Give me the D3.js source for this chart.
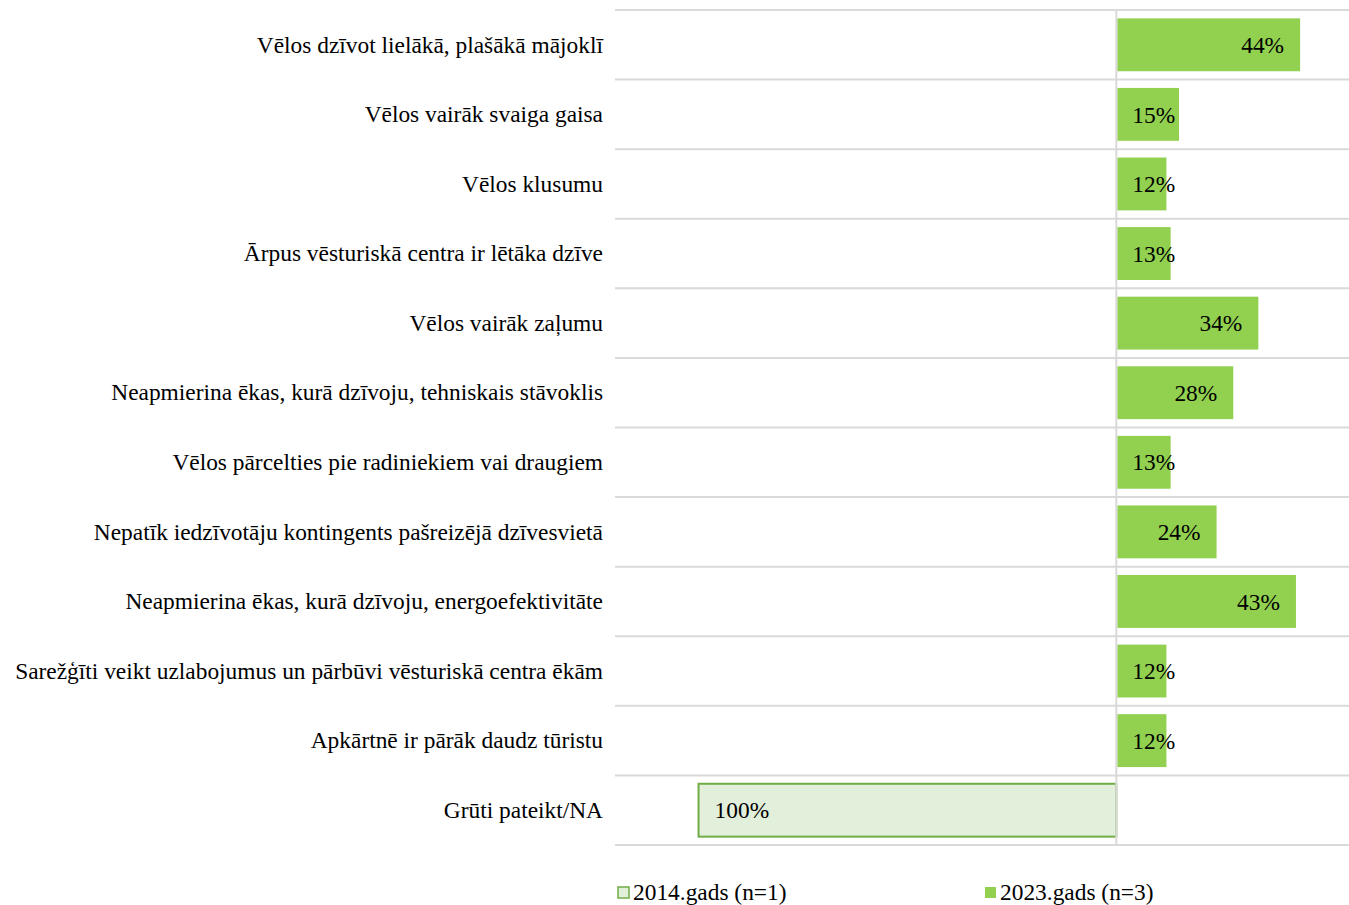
<!DOCTYPE html>
<html>
<head>
<meta charset="utf-8">
<script src="https://cdn.jsdelivr.net/npm/d3@7"></script>
<style>
  body { margin: 0; background: #fff; }
  text { font-family: "Liberation Serif", "Times New Roman", serif; fill: #000; }
</style>
</head>
<body>
<script>
var categories = [
  "Vēlos dzīvot lielākā, plašākā mājoklī",
  "Vēlos vairāk svaiga gaisa",
  "Vēlos klusumu",
  "Ārpus vēsturiskā centra ir lētāka dzīve",
  "Vēlos vairāk zaļumu",
  "Neapmierina ēkas, kurā dzīvoju, tehniskais stāvoklis",
  "Vēlos pārcelties pie radiniekiem vai draugiem",
  "Nepatīk iedzīvotāju kontingents pašreizējā dzīvesvietā",
  "Neapmierina ēkas, kurā dzīvoju, energoefektivitāte",
  "Sarežģīti veikt uzlabojumus un pārbūvi vēsturiskā centra ēkām",
  "Apkārtnē ir pārāk daudz tūristu",
  "Grūti pateikt/NA"
];
var values2014 = [null, null, null, null, null, null, null, null, null, null, null, 100];
var values2023 = [44, 15, 12, 13, 34, 28, 13, 24, 43, 12, 12, null];
var seriesNames = ["2014.gads (n=1)", "2023.gads (n=3)"];

var width = 1349, height = 905;
var svg = d3.select("body").append("svg")
    .attr("width", width)
    .attr("height", height);

var x = d3.scaleLinear().domain([-120, 55.7]).range([615, 1349]);
var y = d3.scaleBand().domain(categories).range([10, 845]).paddingInner(0.24).paddingOuter(0.12);
var rowH = (845 - 10) / categories.length;
var fontSize = 23.4;

// horizontal grid lines between rows
var gridYs = d3.range(categories.length + 1).map(function(i) { return 10 + i * rowH; });
svg.selectAll("line.grid").data(gridYs).enter().append("line")
    .attr("x1", 615).attr("x2", 1349)
    .attr("y1", function(d) { return d; }).attr("y2", function(d) { return d; })
    .attr("stroke", "#d9d9d9").attr("stroke-width", 2);

// 2023 bars
var d23 = categories.map(function(c, i) { return {c: c, v: values2023[i]}; }).filter(function(d) { return d.v != null; });
svg.selectAll("rect.b23").data(d23).enter().append("rect")
    .attr("x", x(0) + 1)
    .attr("y", function(d) { return y(d.c); })
    .attr("width", function(d) { return x(d.v) - x(0) - 1; })
    .attr("height", y.bandwidth())
    .attr("fill", "#92d050");

// 2014 bars (drawn leftwards)
var d14 = categories.map(function(c, i) { return {c: c, v: values2014[i]}; }).filter(function(d) { return d.v != null; });
svg.selectAll("rect.b14").data(d14).enter().append("rect")
    .attr("x", function(d) { return x(-d.v); })
    .attr("y", function(d) { return y(d.c); })
    .attr("width", function(d) { return x(0) - x(-d.v); })
    .attr("height", y.bandwidth())
    .attr("fill", "#e2efda")
    .attr("stroke", "#70ad47")
    .attr("stroke-width", 2);

// center axis line
svg.append("line")
    .attr("x1", x(0)).attr("x2", x(0))
    .attr("y1", 10).attr("y2", 845)
    .attr("stroke", "#d9d9d9").attr("stroke-width", 2);

// labels 2023 - inside end, but pushed right when the bar is too short
svg.selectAll("text.l23").data(d23).enter().append("text")
    .attr("font-size", fontSize)
    .attr("y", function(d) { return y(d.c) + y.bandwidth() / 2; })
    .attr("dy", "0.35em")
    .text(function(d) { return d.v + "%"; })
    .each(function(d) {
      var w = this.getComputedTextLength();
      var left = Math.max(x(d.v) - 16 - w, x(0) + 16);
      d3.select(this).attr("x", left);
    });

// labels 2014
svg.selectAll("text.l14").data(d14).enter().append("text")
    .attr("font-size", fontSize)
    .attr("x", function(d) { return x(-d.v) + 16; })
    .attr("y", function(d) { return y(d.c) + y.bandwidth() / 2; })
    .attr("dy", "0.35em")
    .text(function(d) { return d.v + "%"; });

// category labels
svg.selectAll("text.cat").data(categories).enter().append("text")
    .attr("font-size", fontSize)
    .attr("text-anchor", "end")
    .attr("x", 603)
    .attr("y", function(d) { return y(d) + y.bandwidth() / 2; })
    .attr("dy", "0.33em")
    .text(function(d) { return d; });

// legend
var legend = [
  {name: seriesNames[0], x: 617, fill: "#e2efda", stroke: "#70ad47"},
  {name: seriesNames[1], x: 984, fill: "#92d050", stroke: "none"}
];
var lg = svg.selectAll("g.leg").data(legend).enter().append("g")
    .attr("transform", function(d) { return "translate(" + d.x + ",892)"; });
lg.append("rect")
    .attr("x", 1).attr("y", -5).attr("width", 11).attr("height", 11)
    .attr("fill", function(d) { return d.fill; })
    .attr("stroke", function(d) { return d.stroke; })
    .attr("stroke-width", 1.5);
lg.append("text")
    .attr("font-size", fontSize)
    .attr("x", 16)
    .attr("dy", "0.33em")
    .text(function(d) { return d.name; });
</script>
</body>
</html>
